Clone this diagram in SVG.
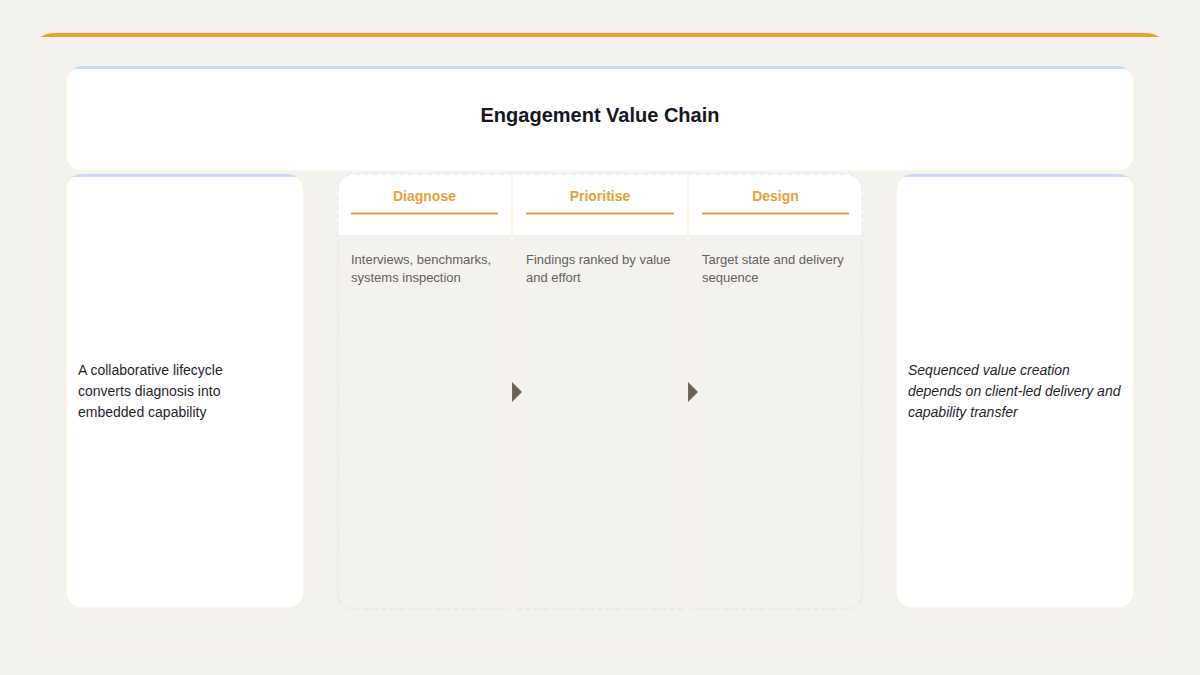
<svg xmlns="http://www.w3.org/2000/svg" width="1200" height="675" viewBox="0 0 1200 675">
<defs>
<style>
.card{fill:#ffffff;stroke:#fbf0de;stroke-width:1}
.topb{fill:#c9dcf6}
.title{font-family:"Liberation Sans",Arial,sans-serif;font-weight:bold;font-size:20px;fill:#16161f}
.ctext{font-family:"Liberation Sans",Arial,sans-serif;font-size:14px;fill:#1f1f2b}
.itext{font-family:"Liberation Sans",Arial,sans-serif;font-size:14px;font-style:italic;fill:#1f1f2b}
.ph{font-family:"Liberation Sans",Arial,sans-serif;font-weight:bold;font-size:14px;fill:#e9a23b}
.pb{font-family:"Liberation Sans",Arial,sans-serif;font-size:13px;fill:#666060}
.uline{stroke:#e9a23b;stroke-width:2}
.div{stroke:#fdf3e2;stroke-width:2}
.arrow{fill:#6b6257}
</style>
<clipPath id="outerClip"><rect x="33" y="33" width="1134" height="609" rx="20"/></clipPath>
<clipPath id="titleClip"><rect x="66" y="66" width="1068" height="105" rx="16"/></clipPath>
<clipPath id="leftClip"><rect x="66" y="174" width="238" height="434" rx="16"/></clipPath>
<clipPath id="rightClip"><rect x="896" y="174" width="238" height="434" rx="16"/></clipPath>
<clipPath id="midClip"><rect x="338" y="174" width="524" height="435" rx="16"/></clipPath>
</defs>
<rect width="1200" height="675" fill="#f4f2ee"/>

<g id="frame">
<rect x="33" y="33" width="1134" height="609" rx="20" fill="#f4f2ee" stroke="#fbf0de" stroke-width="1"/>
<rect x="33" y="33" width="1134" height="4" fill="#e9a23b" clip-path="url(#outerClip)"/>
</g>

<g id="title-card">
<rect class="card" x="66" y="66" width="1068" height="105" rx="16"/>
<rect class="topb" x="66" y="66" width="1068" height="3" clip-path="url(#titleClip)"/>
<text class="title" x="600" y="122" text-anchor="middle">Engagement Value Chain</text>
</g>

<g id="left-card">
<rect class="card" x="66" y="174" width="238" height="434" rx="16"/>
<rect class="topb" x="66" y="174" width="238" height="3" clip-path="url(#leftClip)"/>
<text class="ctext" x="78" y="375">A collaborative lifecycle</text>
<text class="ctext" x="78" y="396">converts diagnosis into</text>
<text class="ctext" x="78" y="417">embedded capability</text>
</g>

<g id="right-card">
<rect class="card" x="896" y="174" width="238" height="434" rx="16"/>
<rect class="topb" x="896" y="174" width="238" height="3" clip-path="url(#rightClip)"/>
<text class="itext" x="908" y="375">Sequenced value creation</text>
<text class="itext" x="908" y="396">depends on client-led delivery and</text>
<text class="itext" x="908" y="417">capability transfer</text>
</g>

<g id="chain">
<g clip-path="url(#midClip)">
<rect x="338" y="174" width="524" height="435" fill="#f4f2ee"/>
<rect x="338" y="174" width="524" height="61" fill="#ffffff"/>
</g>
<rect x="338" y="174" width="524" height="435" rx="16" fill="none" stroke="#e4e2f0" stroke-width="1" stroke-dasharray="6 3"/>
<line class="div" x1="512" y1="174" x2="512" y2="609"/>
<line class="div" x1="688" y1="174" x2="688" y2="609"/>
</g>

<g id="step-diagnose">
<text class="ph" x="424.5" y="201" text-anchor="middle">Diagnose</text>
<line class="uline" x1="351" y1="213.5" x2="498" y2="213.5"/>
<text class="pb" x="351" y="264">Interviews, benchmarks,</text>
<text class="pb" x="351" y="282">systems inspection</text>
</g>

<g id="step-prioritise">
<text class="ph" x="600" y="201" text-anchor="middle">Prioritise</text>
<line class="uline" x1="526" y1="213.5" x2="674" y2="213.5"/>
<text class="pb" x="526" y="264">Findings ranked by value</text>
<text class="pb" x="526" y="282">and effort</text>
</g>

<g id="step-design">
<text class="ph" x="775.5" y="201" text-anchor="middle">Design</text>
<line class="uline" x1="702" y1="213.5" x2="849" y2="213.5"/>
<text class="pb" x="702" y="264">Target state and delivery</text>
<text class="pb" x="702" y="282">sequence</text>
</g>

<g id="connectors">
<polygon class="arrow" points="512,382 522,392 512,402"/>
<polygon class="arrow" points="688,382 698,392 688,402"/>
</g>
</svg>
